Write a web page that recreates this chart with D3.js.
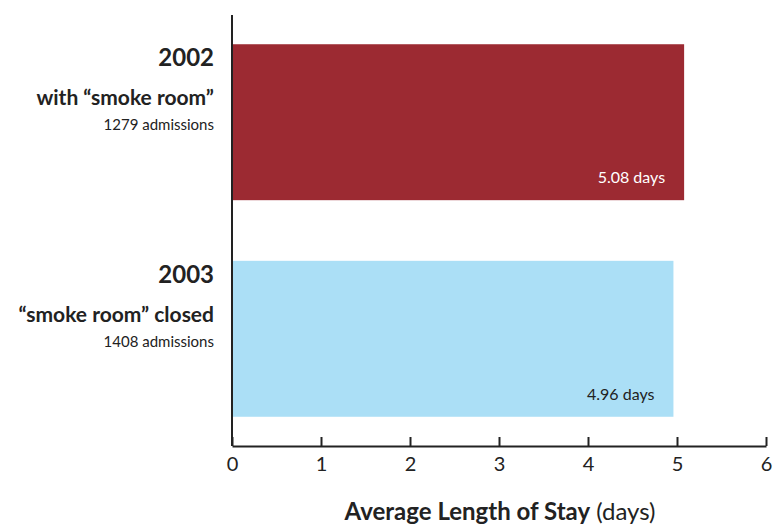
<!DOCTYPE html>
<html><head><meta charset="utf-8">
<script src="https://cdn.jsdelivr.net/npm/d3@7"></script>
<style>
body{margin:0;background:#fff;}
text{font-family:Lato,"Open Sans",sans-serif;}
</style></head>
<body><svg id="c" width="781" height="530"></svg>
<script>
const years = ["2002", "2003"];
const conditions = ["with \u201csmoke room\u201d", "\u201csmoke room\u201d closed"];
const admissions = ["1279 admissions", "1408 admissions"];
const values = [5.08, 4.96];
const valueLabels = ["5.08 days", "4.96 days"];
const colors = ["#9c2a32", "#abdff6"];
const labelColors = ["#ffffff", "#222222"];
const xTicks = [0, 1, 2, 3, 4, 5, 6];

const svg = d3.select("#c");
const x = d3.scaleLinear().domain([0, 6]).range([232, 766]);
const y = d3.scaleBand().domain(years).range([15, 446]).paddingInner(0.28).paddingOuter(0.135);

svg.selectAll("rect.bar").data(years).join("rect")
  .attr("class","bar")
  .attr("x", x(0)).attr("y", d => y(d))
  .attr("width", (d,i) => x(values[i]) - x(0))
  .attr("height", y.bandwidth())
  .attr("fill", (d,i) => colors[i]);

svg.selectAll("text.val").data(years).join("text")
  .attr("class","val")
  .attr("x", (d,i) => x(values[i]) - 19)
  .attr("y", d => y(d) + y.bandwidth() - 17)
  .attr("text-anchor","end")
  .attr("font-size", 16)
  .attr("fill", (d,i) => labelColors[i])
  .text((d,i) => valueLabels[i]);

// category labels
const g = svg.selectAll("g.lab").data(years).join("g").attr("class","lab");
g.append("text").attr("x",214).attr("y", d => y(d)+22)
  .attr("text-anchor","end").attr("font-size",24).attr("font-weight","bold").attr("fill","#222")
  .text(d => d);
g.append("text").attr("x",214).attr("y", d => y(d)+61)
  .attr("text-anchor","end").attr("font-size",21).attr("font-weight","bold").attr("fill","#222")
  .text((d,i) => conditions[i]);
g.append("text").attr("x",214).attr("y", d => y(d)+86)
  .attr("text-anchor","end").attr("font-size",15).attr("fill","#222")
  .text((d,i) => admissions[i]);

// vertical axis line
svg.append("line").attr("x1",x(0)).attr("x2",x(0)).attr("y1",15).attr("y2",446)
  .attr("stroke","#222").attr("stroke-width",2);

// x axis
const ax = svg.append("g").attr("transform","translate(0,446)")
  .call(d3.axisBottom(x).tickValues(xTicks).tickFormat(d3.format("d")).tickSize(-9).tickPadding(11).tickSizeOuter(0));
ax.select(".domain").attr("stroke","#222").attr("stroke-width",2);
ax.selectAll(".tick line").attr("stroke","#222").attr("stroke-width",2);
ax.selectAll(".tick text").attr("font-size",20).attr("fill","#222")
  .attr("font-family","'DejaVu Sans', sans-serif").attr("font-weight","normal");

const t = svg.append("text").attr("x",500).attr("y",520).attr("text-anchor","middle")
  .attr("font-size",24).attr("fill","#222");
t.append("tspan").attr("font-weight","bold").text("Average Length of Stay");
t.append("tspan").text(" (days)");
</script></body></html>
